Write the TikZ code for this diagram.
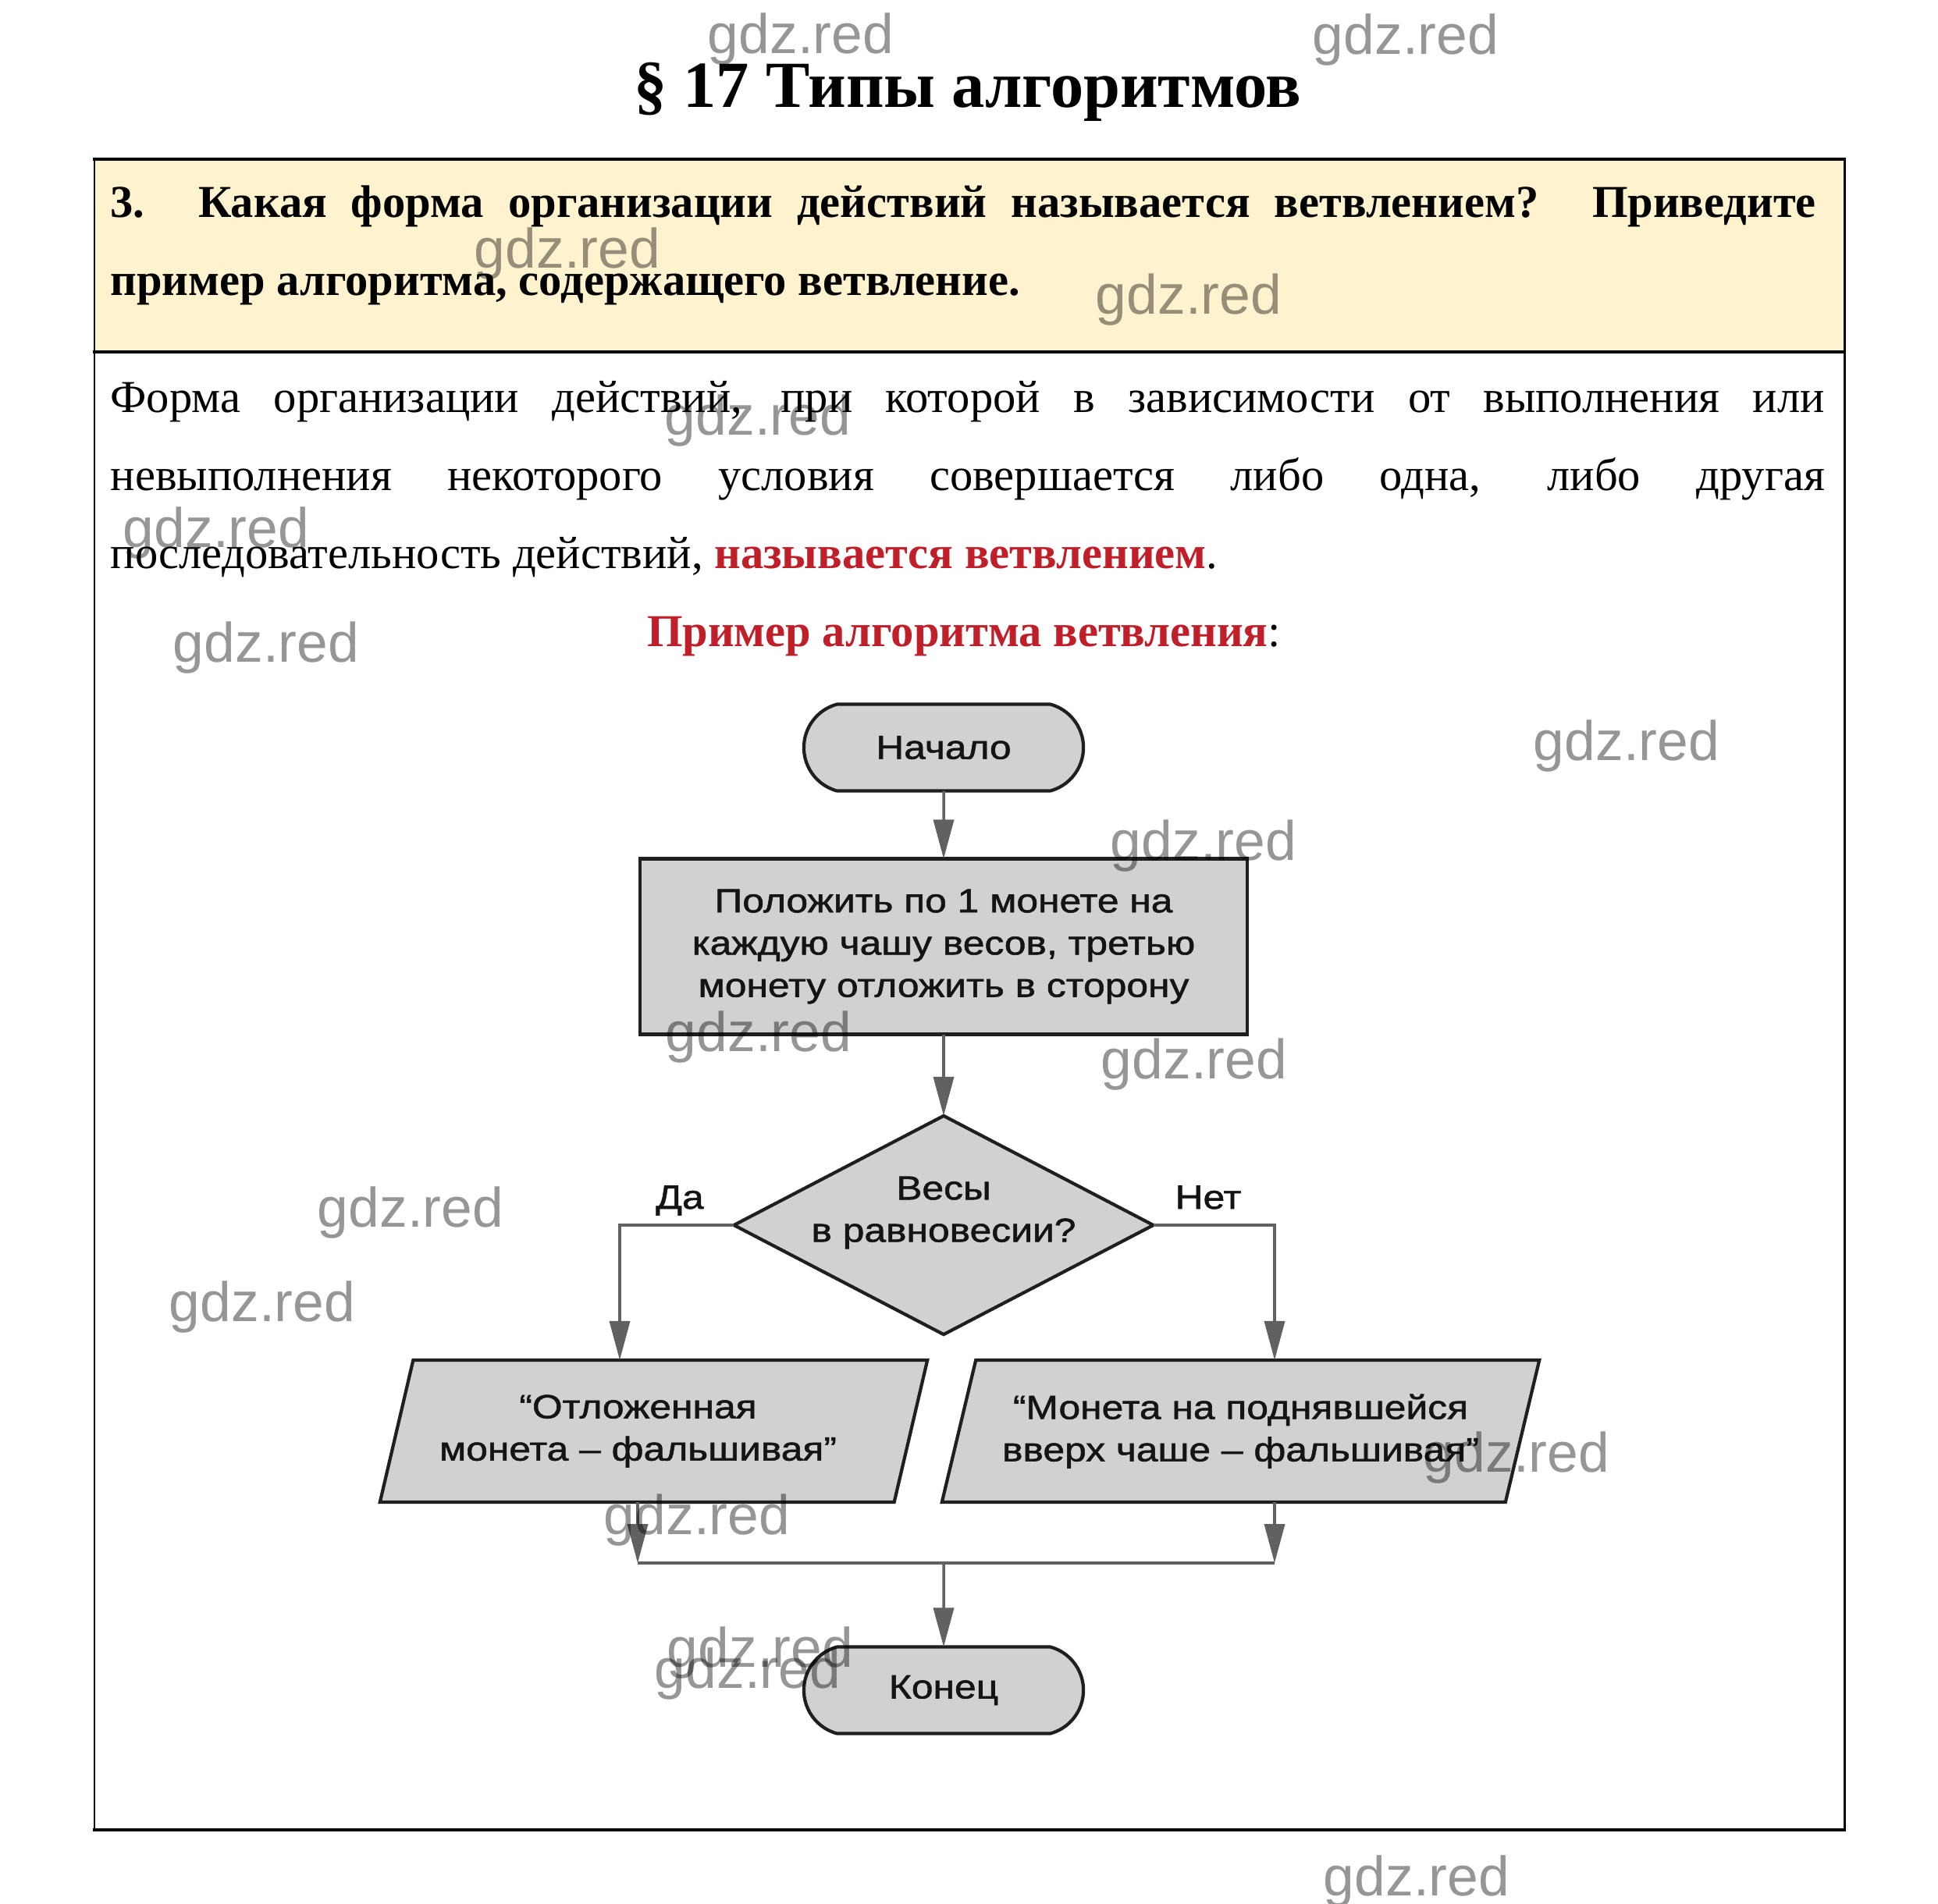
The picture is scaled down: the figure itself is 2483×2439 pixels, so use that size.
\documentclass[tikz,border=0pt]{standalone}
\usepackage{fontspec}
\setmainfont{Liberation Serif}
\newfontfamily\fcfont[FakeStretch=1.16,FakeBold=1.3]{Liberation Sans}
\newfontfamily\wmfont{Liberation Sans}
\usetikzlibrary{shapes.geometric,shapes.misc,arrows.meta}
\definecolor{wred}{RGB}{192,30,40}
\definecolor{hdr}{RGB}{255,242,206}
\newcommand\redb[1]{\textcolor{wred}{\bfseries #1}}
\tikzset{
  wm/.style={font=\wmfont\fontsize{20.3}{24}\selectfont, text=black, text opacity=0.41, anchor=base, inner sep=0},
  fc/.style={font=\fcfont\fontsize{12.2}{15.4}\selectfont, text=black!92, align=center},
  shp/.style={draw=black!88, line width=1.2pt, fill=gray!36, inner sep=0, outer sep=0},
  term/.style={shp, rounded rectangle, rounded rectangle arc length=150, minimum width=3.58cm, minimum height=1.11cm, fc},
  proc/.style={shp, rectangle, minimum width=7.78cm, minimum height=2.25cm, fc},
  dec/.style={shp, diamond, minimum width=5.37cm, minimum height=2.8cm},
  para/.style={shp, trapezium, trapezium left angle=65.4, trapezium right angle=114.6, trapezium stretches body, minimum height=1.82cm, fc},
  conn/.style={draw=black!62, line width=1pt},
  arr/.style={conn, -{Triangle[length=0.5cm, width=0.26cm]}},
  txt/.style={inner sep=0, anchor=base west},
  body/.style={font=\fontsize{16.65}{20}\selectfont},
  bodyb/.style={font=\fontsize{16.65}{20}\selectfont\bfseries},
}
\begin{document}
\begin{tikzpicture}[x=0.01cm, y=-0.01cm]
\fill[white] (0,0) rectangle (2483,2439);
\useasboundingbox (0,0) rectangle (2483,2439);

% title
\node[inner sep=0, anchor=base, font=\fontsize{24}{28}\selectfont\bfseries] (title) at (1240,137) {§ 17 Типы алгоритмов};

% frame
\fill[hdr] (121,204) rectangle (2363,451);
\draw[line width=0.85pt] (121,204) -- (121,2345);
\draw[line width=0.85pt] (2363,204) -- (2363,2345);
\draw[line width=1.4pt] (119,204) -- (2365,204);
\draw[line width=1.4pt] (119,451) -- (2365,451);
\draw[line width=1.1pt] (119,2345) -- (2365,2345);

% question
\node[txt, bodyb] (q1) at (141,278) {\makebox[21.84cm][s]{3. Какая форма организации действий называется ветвлением? Приведите}};
\node[txt, bodyb] (q2) at (141,378) {пример алгоритма, содержащего ветвление.};

% answer
\node[txt, body] (a1) at (141,528) {\makebox[21.95cm][s]{Форма организации действий, при которой в зависимости от выполнения или}};
\node[txt, body] (a2) at (141,628) {\makebox[21.95cm][s]{невыполнения некоторого условия совершается либо одна, либо другая}};
\node[txt, body] (a3) at (141,728) {последовательность действий, \redb{называется ветвлением}.};
\node[inner sep=0, anchor=base, body] (ex) at (1235,828) {\redb{Пример алгоритма ветвления}:};

% flowchart
\node[term] (s) at (1209,958) {Начало};
\node[proc] (r) at (1209,1213) {Положить по 1 монете на\\каждую чашу весов, третью\\монету отложить в сторону};
\node[dec] (d) at (1209,1570) {};
\node[fc, inner sep=0] (dt) at (1209,1554) {Весы\\в равновесии?};
\node[para, minimum width=7.01cm] (pL) at (837.5,1834) {“Отложенная\hspace*{0.4cm}\\монета – фальшивая”\hspace*{0.4cm}};
\node[para, minimum width=7.65cm] (pR) at (1589.5,1834) {“Монета на поднявшейся\\вверх чаше – фальшивая”};
\node[term] (e) at (1209,2166) {Конец};
\node[fc, inner sep=0, anchor=base] (yes) at (871,1549) {Да};
\node[fc, inner sep=0, anchor=base] (no) at (1548,1549) {Нет};

\coordinate (xLt) at (794,0);
\coordinate (xL) at (817,0);
\coordinate (xR) at (1633,0);
\coordinate (jl) at (817,2003);
\coordinate (jr) at (1633,2003);
\coordinate (j) at (1209,2003);

\draw[arr] (s) -- (r);
\draw[arr] (r) -- (d);
\draw[arr] (d.west) -| (xLt |- pL.north);
\draw[arr] (d.east) -| (xR |- pR.north);
\draw[arr] (xL |- pL.south) -- (jl);
\draw[arr] (xR |- pR.south) -- (jr);
\draw[conn] (jl) -- (jr);
\draw[arr] (j) -- (e);

% watermarks
\foreach \x/\y [count=\i] in {1026/68, 1801/69, 727/343, 1523/402, 971/557, 277/701, 341/848, 2084/974, 1542/1102, 972/1347, 1530/1382, 526/1572, 336/1693, 1943/1886, 893/1966, 974/2136, 958/2163, 1815/2429}
  \node[wm] (wm\i) at (\x,\y) {gdz.red};
\end{tikzpicture}
\end{document}
